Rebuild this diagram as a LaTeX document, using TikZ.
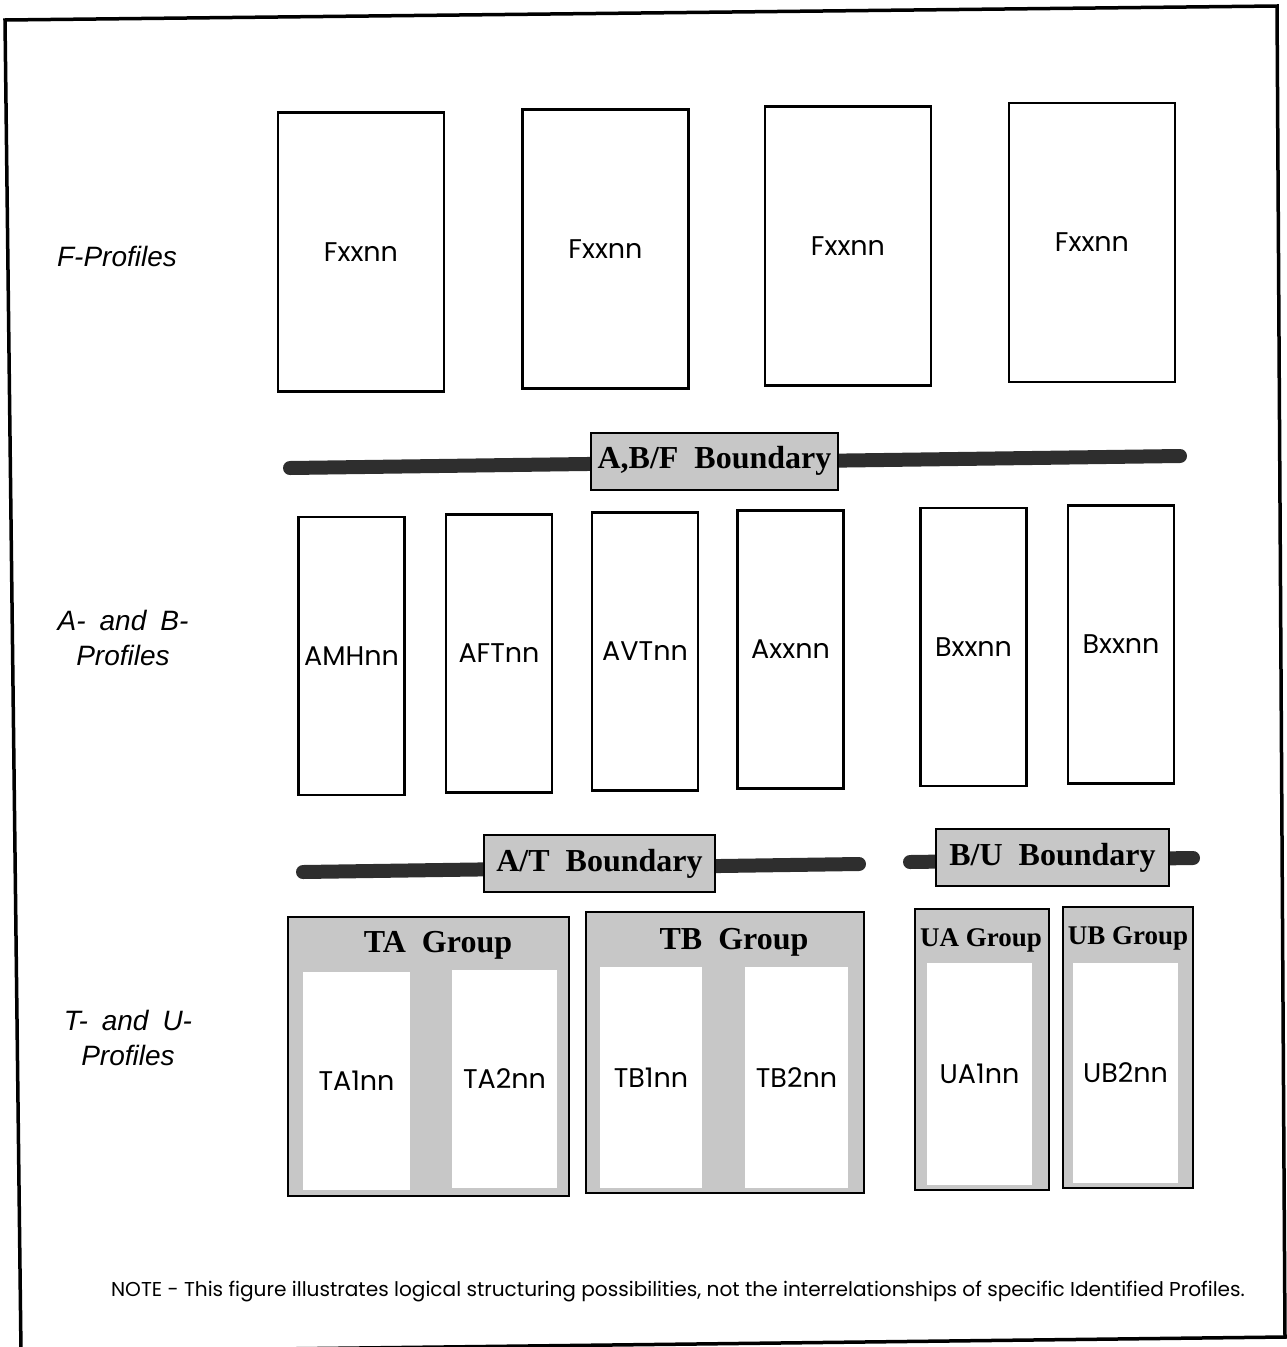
\documentclass[tikz,border=0pt]{standalone}
\usepackage{fontspec}
\setmainfont{Liberation Serif}
\newfontfamily\geofont{Poppins}
\newfontfamily\helvfont{Liberation Sans}
\usetikzlibrary{positioning}

\newcommand{\proffont}{\geofont\fontsize{27}{32}\selectfont}
\newcommand{\sidefont}{\helvfont\itshape\fontsize{28}{35}\selectfont}
\newcommand{\bdyfont}{\bfseries\fontsize{32}{36}\selectfont}
\newcommand{\grpfont}{\bfseries\fontsize{32}{36}\selectfont}
\newcommand{\smgrpfont}{\bfseries\fontsize{27}{30}\selectfont}

\begin{document}
\begin{tikzpicture}
[x=1pt,y=-1pt
,pbox/.style={draw,line width=2.2pt,inner sep=0pt,font=\proffont}
,fprof/.style={pbox,minimum width=166,minimum height=279}
,abprof/.style={pbox,minimum width=106,minimum height=278}
,bar/.style={line width=14pt,line cap=round,draw=black!82}
,bdy/.style={draw,line width=2pt,fill=black!22,inner sep=0pt,minimum height=57,font=\bdyfont}
,grp/.style={draw,line width=2.2pt,fill=black!22,inner sep=0pt}
,grptitle/.style={inner sep=0pt,font=\grpfont}
,tuprof/.style={fill=white,inner sep=0pt,font=\proffont}
,side/.style={align=center,font=\sidefont}]
\useasboundingbox (0,0) rectangle (1287,1347);
% frame
\draw[line width=3.5pt] (5,20) -- (1277,6) -- (1285,1337) -- (21,1352) -- cycle;

% row labels
\node[side] (lf) at (117,256) {F-Profiles};
\node[side] (lab) at (123,638) {A-\enspace and\enspace B-\\Profiles};
\node[side] (ltu) at (128,1038) {T-\enspace and\enspace U-\\Profiles};

% F-Profiles
\node[fprof] (f1) at (361,252) {Fxxnn};
\node[fprof] (f2) at (605.5,249) {Fxxnn};
\node[fprof] (f3) at (848,246) {Fxxnn};
\node[fprof] (f4) at (1092,242.5) {Fxxnn};

% A,B/F boundary
\coordinate (abfl) at (290,468);
\coordinate (abfr) at (1180,456);
\draw[bar] (abfl) -- (abfr);
\node[bdy,minimum width=247] (abf) at (714.5,461) {A,B/F\enspace Boundary};

% A- and B-Profiles
\node[abprof] (a1) at (351.5,656) {AMHnn};
\node[abprof] (a2) at (499,653.5) {AFTnn};
\node[abprof] (a3) at (645,651.5) {AVTnn};
\node[abprof] (a4) at (790.5,649.5) {Axxnn};
\node[abprof] (b1) at (973.5,647) {Bxxnn};
\node[abprof] (b2) at (1121,644.5) {Bxxnn};

% A/T and B/U boundaries
\coordinate (atl) at (303,872);
\coordinate (atr) at (859,864);
\draw[bar] (atl) -- (atr);
\node[bdy,minimum width=231] (at) at (599.5,863.5) {A/T\enspace Boundary};
\coordinate (bul) at (910,862);
\coordinate (bur) at (1193,858);
\draw[bar] (bul) -- (bur);
\node[bdy,minimum width=233] (bu) at (1052.5,857.5) {B/U\enspace Boundary};

% T- and U-Profiles
\node[grp,minimum width=281,minimum height=279] (ta) at (428.5,1056.5) {};
\node[grptitle] (tat) at (438,945) {TA\enspace Group};
\node[tuprof,minimum width=107,minimum height=218] (ta1) at (356.5,1081) {TA1nn};
\node[tuprof,minimum width=105,minimum height=218] (ta2) at (504.5,1079) {TA2nn};

\node[grp,minimum width=278,minimum height=281] (tb) at (725,1052.5) {};
\node[grptitle] (tbt) at (734,942) {TB\enspace Group};
\node[tuprof,minimum width=102,minimum height=221] (tb1) at (651,1077.5) {TB1nn};
\node[tuprof,minimum width=103,minimum height=221] (tb2) at (796.5,1077.5) {TB2nn};

\node[grp,minimum width=134,minimum height=281] (ua) at (982,1049.5) {};
\node[grptitle,font=\smgrpfont] (uat) at (981,940) {UA Group};
\node[tuprof,minimum width=105,minimum height=222] (ua1) at (979.5,1074) {UA1nn};

\node[grp,minimum width=130,minimum height=281] (ub) at (1128,1047.5) {};
\node[grptitle,font=\smgrpfont] (ubt) at (1128,938) {UB Group};
\node[tuprof,minimum width=105,minimum height=220] (ub1) at (1125.5,1073) {UB2nn};

% note
\node[font=\geofont\fontsize{20.1}{24}\selectfont] (note) at (678,1292)
  {NOTE - This figure illustrates logical structuring possibilities, not the interrelationships of specific Identified Profiles.};
\end{tikzpicture}
\end{document}
